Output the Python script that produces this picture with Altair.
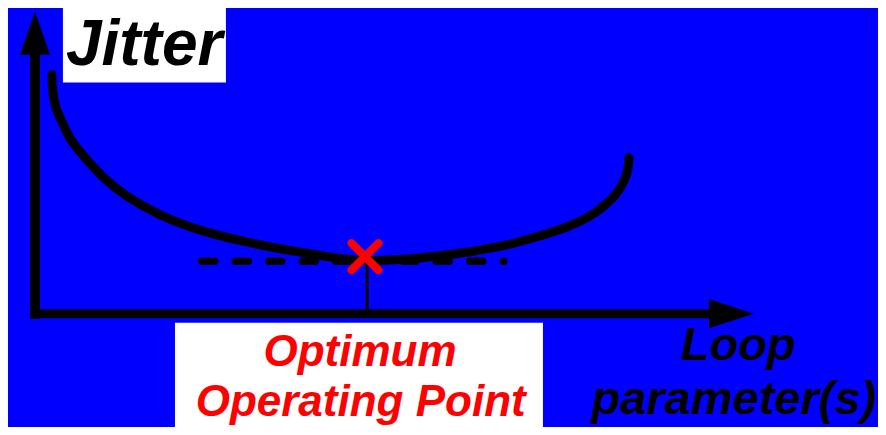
import altair as alt
import pandas as pd

# ---- data (abstract units: loop parameter 0..100, jitter 0..100) ----
curve_x = [2.36, 2.50, 2.92, 3.62, 5.01, 7.23, 9.87, 12.93, 17.39, 21.56, 25.73, 29.90,
           34.08, 38.25, 42.42, 45.90, 50.76, 56.33, 60.50, 65.09, 69.82, 74.41, 76.77,
           79.00, 80.95, 82.34, 82.62]
curve_y = [79.11, 73.15, 68.19, 64.22, 57.60, 50.98, 44.36, 38.73, 32.77, 28.80, 25.82, 23.50,
           21.52, 19.86, 18.30, 17.60, 17.95, 19.20, 20.52, 22.51, 25.49, 29.13, 31.78,
           35.42, 40.05, 46.67, 51.64]

min_jitter = 17.4
dash_x = [23.2, 65.2]
opt_x = 45.9
opt_y = 18.9
stem_x = 46.2

axis_y_top = 87.4
axis_x_right = 94.2
arrow_tip = 100

jitter_box = dict(x=3.89, x2=26.56, y=101.3, y2=76.5)
opt_box = dict(x=19.47, x2=70.65, y=-2.98, y2=-37.5)

jitter_label = dict(text="Jitter", x=4.3, y=82.4)
opt_labels = ["Optimum", "Operating Point"]
opt_label_x = [45.2, 45.3]
opt_label_y = [-17.2, -33.8]
loop_labels = ["Loop", "parameter(s)"]
loop_label_x = [97.8, 97.2]
loop_label_y = [-15.2, -33.1]

XDOM = [-3.75, 117.25]
YDOM = [-37.5, 101.2]

xs = alt.Scale(domain=XDOM, nice=False, zero=False)
ys = alt.Scale(domain=YDOM, nice=False, zero=False)


def X(f):
    return alt.X(f, type="quantitative", scale=xs, axis=None)


def Y(f):
    return alt.Y(f, type="quantitative", scale=ys, axis=None)


FONT = "Liberation Sans"

df_curve = pd.DataFrame({"x": curve_x, "y": curve_y})

curve = alt.Chart(df_curve).mark_line(
    color="black", strokeWidth=9, strokeCap="round", interpolate="catmull-rom"
).encode(x=X("x"), y=Y("y"))

dash = alt.Chart(pd.DataFrame({"x": [dash_x[0]], "x2": [dash_x[1]], "y": [min_jitter]})).mark_rule(
    color="black", strokeWidth=7.5, strokeCap="round", strokeDash=[13, 20.5]
).encode(x=X("x"), x2="x2", y=Y("y"))

stem = alt.Chart(pd.DataFrame({"x": [stem_x], "y": [opt_y], "y2": [0]})).mark_rule(
    color="black", strokeWidth=3
).encode(x=X("x"), y=Y("y"), y2="y2")

yaxis = alt.Chart(pd.DataFrame({"x": [0], "y": [0], "y2": [axis_y_top]})).mark_rule(
    color="black", strokeWidth=10, strokeCap="square"
).encode(x=X("x"), y=Y("y"), y2="y2")

xaxis = alt.Chart(pd.DataFrame({"x": [0], "x2": [axis_x_right], "y": [0]})).mark_rule(
    color="black", strokeWidth=9, strokeCap="square"
).encode(x=X("x"), x2="x2", y=Y("y"))

up_head = alt.Chart(pd.DataFrame({"x": [0], "y": [arrow_tip]})).mark_point(
    shape="M0,0L0.7,2L-0.7,2Z", size=1849, filled=True, color="black", opacity=1, strokeWidth=0
).encode(x=X("x"), y=Y("y"))

right_head = alt.Chart(pd.DataFrame({"x": [arrow_tip], "y": [0]})).mark_point(
    shape="M0,0L-2,-0.65L-2,0.65Z", size=2025, filled=True, color="black", opacity=1, strokeWidth=0
).encode(x=X("x"), y=Y("y"))

cross = alt.Chart(pd.DataFrame({"x": [opt_x], "y": [opt_y]})).mark_point(
    shape="M-1,-1L1,1M-1,1L1,-1", size=729, filled=False, color="#FF0000",
    opacity=1, strokeWidth=8, strokeCap="round"
).encode(x=X("x"), y=Y("y"))

boxes = alt.Chart(pd.DataFrame([jitter_box, opt_box])).mark_rect(color="white").encode(
    x=X("x"), x2="x2", y=Y("y"), y2="y2"
)

jitter_text = alt.Chart(pd.DataFrame([jitter_label])).mark_text(
    font=FONT, fontSize=64, fontWeight="bold", fontStyle="italic", color="black",
    align="left", baseline="alphabetic"
).encode(x=X("x"), y=Y("y"), text="text:N")

opt_text = alt.Chart(pd.DataFrame({"text": opt_labels, "x": opt_label_x, "y": opt_label_y})).mark_text(
    font=FONT, fontSize=44, fontWeight="bold", fontStyle="italic", color="#FF0000",
    align="center", baseline="alphabetic"
).encode(x=X("x"), y=Y("y"), text="text:N")

loop_text = alt.Chart(pd.DataFrame({"text": loop_labels, "x": loop_label_x, "y": loop_label_y})).mark_text(
    font=FONT, fontSize=47, fontWeight="bold", fontStyle="italic", color="black",
    align="center", baseline="alphabetic"
).encode(x=X("x"), y=Y("y"), text="text:N")

chart = alt.layer(
    boxes, yaxis, xaxis, up_head, right_head, dash, stem, curve, cross,
    jitter_text, opt_text, loop_text
).properties(
    width=870, height=419, padding=0, autosize="none", background="#0000FF"
).configure_view(stroke=None)

chart.save("out.html", embed_options={"renderer": "svg", "actions": False})
